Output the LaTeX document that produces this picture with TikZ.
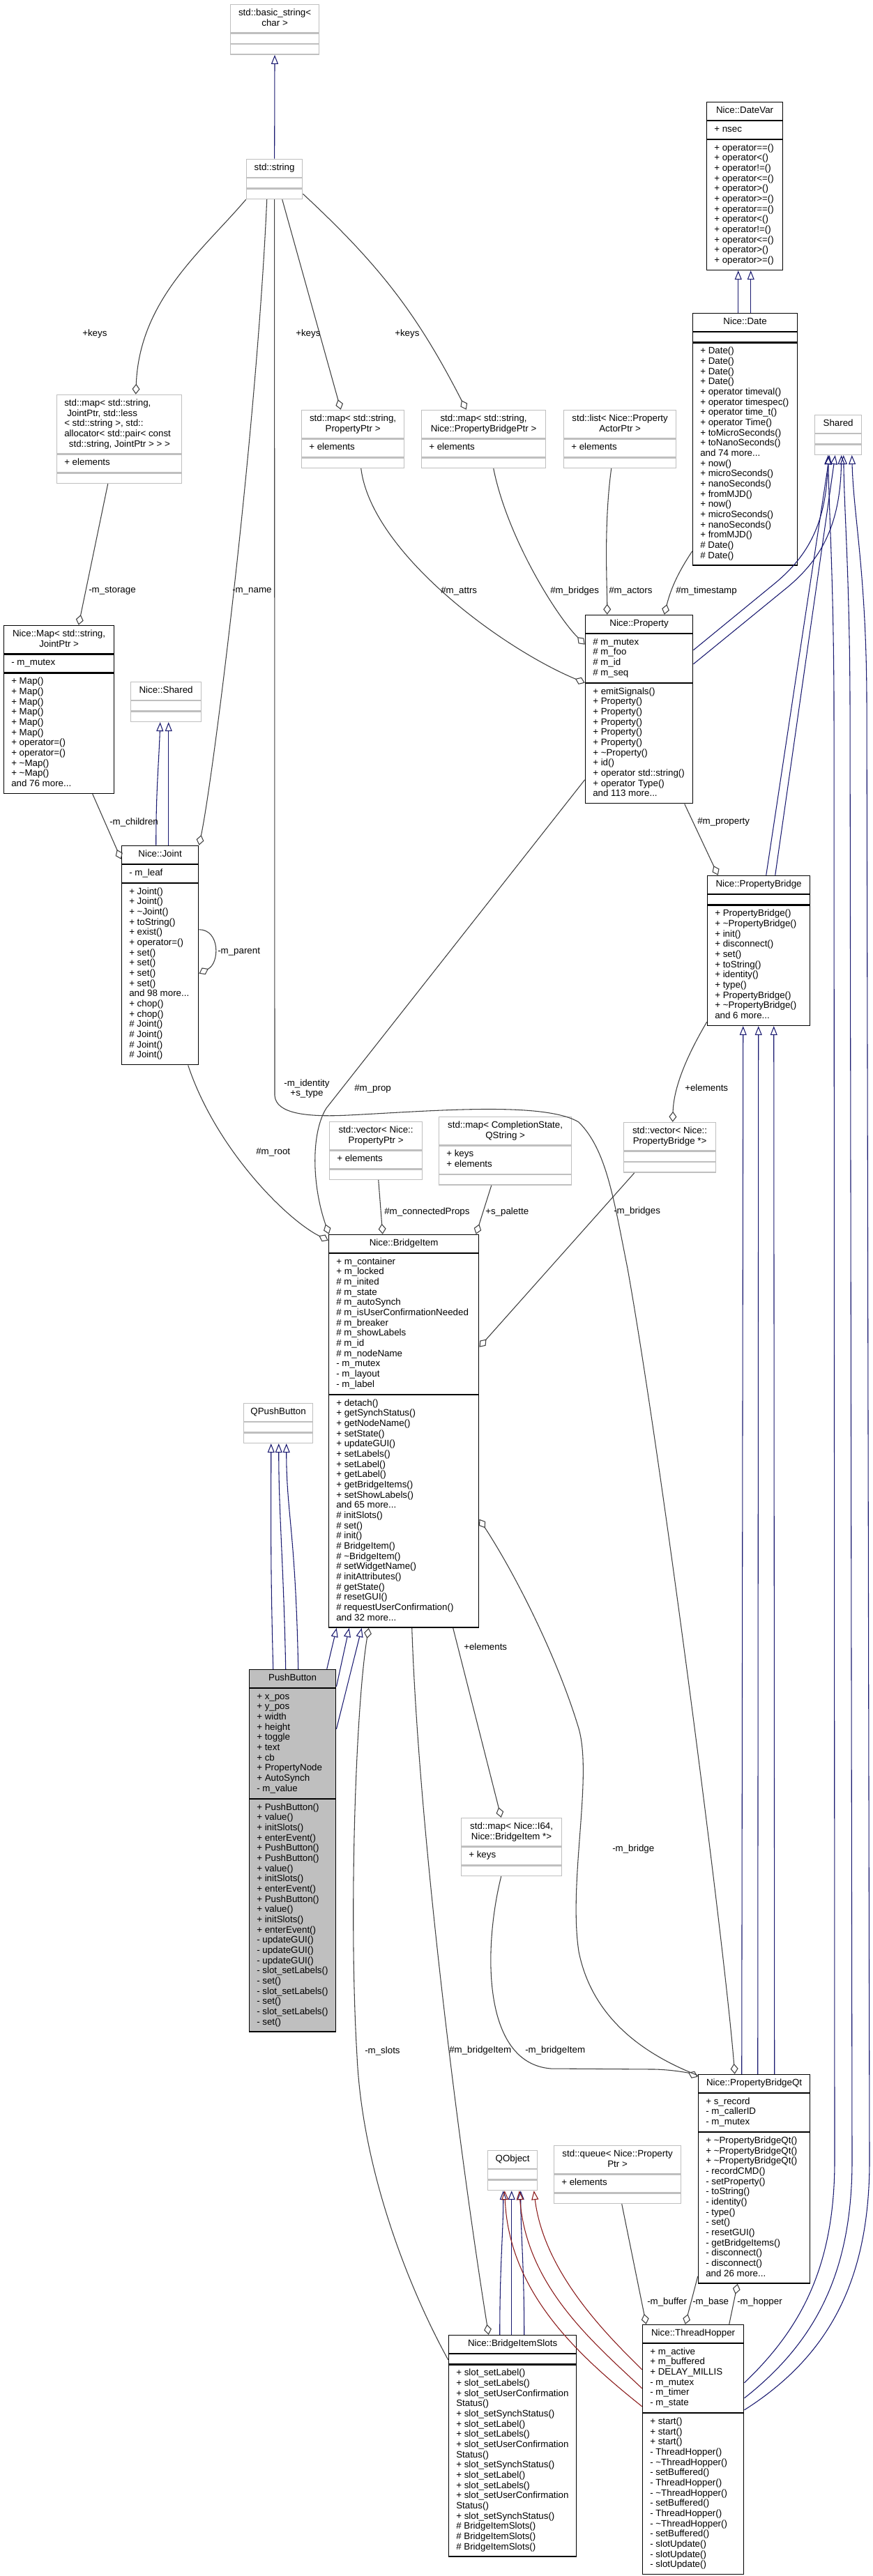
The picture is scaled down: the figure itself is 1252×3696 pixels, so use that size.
\documentclass[tikz,border=0pt]{standalone}
\usepackage{fontspec}
\setmainfont{Liberation Sans}
\usetikzlibrary{arrows.meta,positioning,fit}
\definecolor{edgegray}{HTML}{404040}
\definecolor{inhblue}{HTML}{191970}
\definecolor{privred}{HTML}{8B1A1A}
\definecolor{extgray}{HTML}{BFBFBF}
\newlength{\clsw}
% [title align]{style}{name}{top left}{width px}{title}{attributes}{methods}
\newcommand{\umlclass}[8][c]{%
  \setlength{\clsw}{\dimexpr #5pt*3/4-16pt\relax}%
  \node[cbox,#2,anchor=north west] (#3-t) at (#4)
    {\makebox[\clsw][#1]{\begin{tabular}{@{}#1@{}}#6\end{tabular}}};
  \node[cbox,#2,below=0pt of #3-t] (#3-a)
    {\makebox[\clsw][l]{\begin{tabular}{@{}l@{}}#7\end{tabular}}};
  \node[cbox,#2,below=0pt of #3-a] (#3-m)
    {\makebox[\clsw][l]{\begin{tabular}{@{}l@{}}#8\end{tabular}}};
  \node[fit=(#3-t)(#3-m),inner sep=0pt] (#3) {};
}

\begin{document}
\begin{tikzpicture}[
    x=0.75pt,y=-0.75pt,
    cbox/.style={rectangle,inner xsep=8pt,inner ysep=4.125pt,line width=0.9pt,font=\fontsize{10}{11}\selectfont},
    doc/.style={draw=black},
    ext/.style={draw=extgray},
    cur/.style={draw=black,fill=extgray},
    inh/.style={draw=inhblue,line width=0.8pt,-{Triangle[open,length=9.75pt,width=7.5pt]}},
    priv/.style={inh,draw=privred},
    agg/.style={draw=edgegray,line width=0.8pt,-{Diamond[open,length=11.25pt,width=8.25pt]}},
    lbl/.style={font=\fontsize{10}{11}\selectfont,inner sep=0pt,anchor=west}
  ]
    \path[use as bounding box,fill=white] (0,0) rectangle (1252,3696);

    \umlclass{ext}{basic}{330,6}{127}{std::basic\_string<\\char >}{}{}
    \umlclass{ext}{str}{353,228}{80}{std::string}{}{}
    \umlclass[l]{ext}{storage}{81,566}{179}{std::map< std::string,\\\hspace*{3pt}JointPtr, std::less\\< std::string >, std::\\allocator< std::pair< const\\\hspace*{5pt}std::string, JointPtr > > >}{+ elements}{}
    \umlclass{doc}{mapjp}{5,897}{158}{Nice::Map< std::string,\\JointPtr >}{- m\_mutex}{+ Map()\\+ Map()\\+ Map()\\+ Map()\\+ Map()\\+ Map()\\+ operator=()\\+ operator=()\\+ \textasciitilde Map()\\+ \textasciitilde Map()\\and 76 more...}
    \umlclass{ext}{nshared}{187,978}{101}{Nice::Shared}{}{}
    \umlclass{doc}{joint}{174,1213}{110}{Nice::Joint}{- m\_leaf}{+ Joint()\\+ Joint()\\+ \textasciitilde Joint()\\+ toString()\\+ exist()\\+ operator=()\\+ set()\\+ set()\\+ set()\\+ set()\\and 98 more...\\+ chop()\\+ chop()\\\# Joint()\\\# Joint()\\\# Joint()\\\# Joint()}
    \umlclass{ext}{mappp}{432,588}{147}{std::map< std::string,\\PropertyPtr >}{+ elements}{}
    \umlclass{ext}{mappb}{604,588}{178}{std::map< std::string,\\Nice::PropertyBridgePtr >}{+ elements}{}
    \umlclass{ext}{listpa}{808,588}{161}{std::list< Nice::Property\\ActorPtr >}{+ elements}{}
    \umlclass{doc}{datevar}{1013,146}{109}{Nice::DateVar}{+ nsec}{+ operator==()\\+ operator<()\\+ operator!=()\\+ operator<=()\\+ operator>()\\+ operator>=()\\+ operator==()\\+ operator<()\\+ operator!=()\\+ operator<=()\\+ operator>()\\+ operator>=()}
    \umlclass{doc}{date}{993,449}{150}{Nice::Date}{}{+ Date()\\+ Date()\\+ Date()\\+ Date()\\+ operator timeval()\\+ operator timespec()\\+ operator time\_t()\\+ operator Time()\\+ toMicroSeconds()\\+ toNanoSeconds()\\and 74 more...\\+ now()\\+ microSeconds()\\+ nanoSeconds()\\+ fromMJD()\\+ now()\\+ microSeconds()\\+ nanoSeconds()\\+ fromMJD()\\\# Date()\\\# Date()}
    \umlclass{ext}{shared}{1168,595}{67}{Shared}{}{}
    \umlclass{doc}{property}{839,882}{154}{Nice::Property}{\# m\_mutex\\\# m\_foo\\\# m\_id\\\# m\_seq}{+ emitSignals()\\+ Property()\\+ Property()\\+ Property()\\+ Property()\\+ Property()\\+ \textasciitilde Property()\\+ id()\\+ operator std::string()\\+ operator Type()\\and 113 more...}
    \umlclass{doc}{pbridge}{1014,1256}{147}{Nice::PropertyBridge}{}{+ PropertyBridge()\\+ \textasciitilde PropertyBridge()\\+ init()\\+ disconnect()\\+ set()\\+ toString()\\+ identity()\\+ type()\\+ PropertyBridge()\\+ \textasciitilde PropertyBridge()\\and 6 more...}
    \umlclass{ext}{vecprop}{472,1609}{133}{std::vector< Nice::\\PropertyPtr >}{+ elements}{}
    \umlclass{ext}{mapcs}{629,1602}{190}{std::map< CompletionState,\\QString >}{+ keys\\+ elements}{}
    \umlclass{ext}{vecpb}{894,1610}{132}{std::vector< Nice::\\PropertyBridge *>}{}{}
    \umlclass{doc}{bridgeitem}{471,1771}{215}{Nice::BridgeItem}{+ m\_container\\+ m\_locked\\\# m\_inited\\\# m\_state\\\# m\_autoSynch\\\# m\_isUserConfirmationNeeded\\\# m\_breaker\\\# m\_showLabels\\\# m\_id\\\# m\_nodeName\\- m\_mutex\\- m\_layout\\- m\_label}{+ detach()\\+ getSynchStatus()\\+ getNodeName()\\+ setState()\\+ updateGUI()\\+ setLabels()\\+ setLabel()\\+ getLabel()\\+ getBridgeItems()\\+ setShowLabels()\\and 65 more...\\\# initSlots()\\\# set()\\\# init()\\\# BridgeItem()\\\# \textasciitilde BridgeItem()\\\# setWidgetName()\\\# initAttributes()\\\# getState()\\\# resetGUI()\\\# requestUserConfirmation()\\and 32 more...}
    \umlclass{ext}{qpush}{349,2013}{99}{QPushButton}{}{}
    \umlclass{cur}{pushbutton}{357,2395}{124}{PushButton}{+ x\_pos\\+ y\_pos\\+ width\\+ height\\+ toggle\\+ text\\+ cb\\+ PropertyNode\\+ AutoSynch\\- m\_value}{+ PushButton()\\+ value()\\+ initSlots()\\+ enterEvent()\\+ PushButton()\\+ PushButton()\\+ value()\\+ initSlots()\\+ enterEvent()\\+ PushButton()\\+ value()\\+ initSlots()\\+ enterEvent()\\- updateGUI()\\- updateGUI()\\- updateGUI()\\- slot\_setLabels()\\- set()\\- slot\_setLabels()\\- set()\\- slot\_setLabels()\\- set()}
    \umlclass{ext}{mapbi}{661,2608}{144}{std::map< Nice::I64,\\Nice::BridgeItem *>}{+ keys}{}
    \umlclass{doc}{pbqt}{1001,2976}{160}{Nice::PropertyBridgeQt}{+ s\_record\\- m\_callerID\\- m\_mutex}{+ \textasciitilde PropertyBridgeQt()\\+ \textasciitilde PropertyBridgeQt()\\+ \textasciitilde PropertyBridgeQt()\\- recordCMD()\\- setProperty()\\- toString()\\- identity()\\- type()\\- set()\\- resetGUI()\\- getBridgeItems()\\- disconnect()\\- disconnect()\\and 26 more...}
    \umlclass{ext}{qobject}{699,3085}{71}{QObject}{}{}
    \umlclass{ext}{queue}{794,3078}{182}{std::queue< Nice::Property\\Ptr >}{+ elements}{}
    \umlclass{doc}{hopper}{921,3335}{145}{Nice::ThreadHopper}{+ m\_active\\+ m\_buffered\\+ DELAY\_MILLIS\\- m\_mutex\\- m\_timer\\- m\_state}{+ start()\\+ start()\\+ start()\\- ThreadHopper()\\- \textasciitilde ThreadHopper()\\- setBuffered()\\- ThreadHopper()\\- \textasciitilde ThreadHopper()\\- setBuffered()\\- ThreadHopper()\\- \textasciitilde ThreadHopper()\\- setBuffered()\\- slotUpdate()\\- slotUpdate()\\- slotUpdate()}
    \umlclass{doc}{slots}{643,3350}{183}{Nice::BridgeItemSlots}{}{+ slot\_setLabel()\\+ slot\_setLabels()\\+ slot\_setUserConfirmation\\Status()\\+ slot\_setSynchStatus()\\+ slot\_setLabel()\\+ slot\_setLabels()\\+ slot\_setUserConfirmation\\Status()\\+ slot\_setSynchStatus()\\+ slot\_setLabel()\\+ slot\_setLabels()\\+ slot\_setUserConfirmation\\Status()\\+ slot\_setSynchStatus()\\\# BridgeItemSlots()\\\# BridgeItemSlots()\\\# BridgeItemSlots()}

    \draw[inh] (str) -- (basic);
    \draw[inh] ([shift={(50,0)}]joint.north west) .. controls +(0,-80) and +(-2,60) .. ([shift={(43,0)}]nshared.south west);
    \draw[inh] ([shift={(68,0)}]joint.north west) -- ([shift={(55,0)}]nshared.south west);
    \draw[inh] ([shift={(66,0)}]date.north west) -- ([shift={(46,0)}]datevar.south west);
    \draw[inh] ([shift={(84,0)}]date.north west) -- ([shift={(64,0)}]datevar.south west);
    \draw[inh] ([shift={(0,51)}]property.north east) -- (1110,838) .. controls (1160,797) and (1185,750) .. ([shift={(20,0)}]shared.south west);
    \draw[inh] ([shift={(0,71)}]property.north east) -- (1130,842) .. controls (1180,800) and (1205,750) .. ([shift={(39,0)}]shared.south west);
    \draw[inh] ([shift={(85,0)}]pbridge.north west) -- ([shift={(22,0)}]shared.south west);
    \draw[inh] ([shift={(98,0)}]pbridge.north west) -- ([shift={(30,0)}]shared.south west);
    \draw[inh] ([shift={(0,84)}]hopper.north east) .. controls (1150,3340) and (1197,3250) .. (1197,3100) -- (1196,1000) .. controls (1195,820) and (1189,740) .. ([shift={(20,0)}]shared.south west);
    \draw[inh] ([shift={(0,106)}]hopper.north east) .. controls (1170,3360) and (1222,3260) .. (1222,3100) -- (1219,1000) .. controls (1218,820) and (1211,740) .. ([shift={(42,0)}]shared.south west);
    \draw[inh] ([shift={(0,123)}]hopper.north east) .. controls (1190,3380) and (1247,3270) .. (1247,3100) -- (1243,1000) .. controls (1242,820) and (1224,740) .. ([shift={(54,0)}]shared.south west);
    \draw[inh] ([shift={(63,0)}]pbqt.north west) -- ([shift={(52,0)}]pbridge.south west);
    \draw[inh] ([shift={(86,0)}]pbqt.north west) -- ([shift={(74,0)}]pbridge.south west);
    \draw[inh] ([shift={(110,0)}]pbqt.north west) -- ([shift={(96,0)}]pbridge.south west);
    \draw[inh] ([shift={(35,0)}]pushbutton.north west) .. controls +(-4,-150) and +(0,120) .. ([shift={(40,0)}]qpush.south west);
    \draw[inh] ([shift={(53,0)}]pushbutton.north west) .. controls +(-3,-150) and +(0,100) .. ([shift={(51,0)}]qpush.south west);
    \draw[inh] ([shift={(71,0)}]pushbutton.north west) .. controls +(-4,-200) and +(0,100) .. ([shift={(62,0)}]qpush.south west);
    \draw[inh] ([shift={(112,0)}]pushbutton.north west) -- ([shift={(12,0)}]bridgeitem.south west);
    \draw[inh] ([shift={(0,25)}]pushbutton.north east) -- ([shift={(30,0)}]bridgeitem.south west);
    \draw[inh] ([shift={(0,86)}]pushbutton.north east) -- ([shift={(48,0)}]bridgeitem.south west);
    \draw[inh] ([shift={(74,0)}]slots.north west) .. controls +(0,-100) and +(0,60) .. ([shift={(23,0)}]qobject.south west);
    \draw[inh] ([shift={(91,0)}]slots.north west) -- ([shift={(35,0)}]qobject.south west);
    \draw[inh] ([shift={(109,0)}]slots.north west) .. controls +(0,-100) and +(0,60) .. ([shift={(48,0)}]qobject.south west);
    \draw[priv] ([shift={(0,65)}]hopper.north west) .. controls (870,3350) and (780,3260) .. ([shift={(67,0)}]qobject.south west);
    \draw[priv] ([shift={(0,92)}]hopper.north west) .. controls (850,3360) and (755,3280) .. ([shift={(46,0)}]qobject.south west);
    \draw[priv] ([shift={(0,118)}]hopper.north west) .. controls (830,3380) and (730,3290) .. ([shift={(25,0)}]qobject.south west);

    \draw[agg] (str.south west) .. controls (290,360) and (200,430) .. ([shift={(114,0)}]storage.north west);
    \draw[agg] ([shift={(52,0)}]str.south west) -- ([shift={(57,0)}]mappp.north west);
    \draw[agg] ([shift={(0,-8)}]str.south east) to[bend left=10] ([shift={(65,0)}]mappb.north west);
    \draw[agg] ([shift={(30,0)}]str.south west) .. controls (368,620) and (306,1115) .. (joint.north east);
    \draw[agg] (str.south) -- (394,1572) .. controls (396,1598) and (440,1603) .. (500,1600) .. controls (620,1594) and (780,1580) .. (830,1610) .. controls (870,1650) and (880,1720) .. (900,1820) .. controls (950,2100) and (1040,2800) .. ([shift={(53,0)}]pbqt.north west);
    \draw[agg] ([shift={(74,0)}]storage.south west) -- ([shift={(108,0)}]mapjp.north west);
    \draw[agg] ([shift={(128,0)}]mapjp.south west) -- ([shift={(0,20)}]joint.north west);
    \draw[agg] ([shift={(0,121)}]joint.north east) .. controls +(30,0) and +(30,-15) .. ([shift={(0,184)}]joint.north east);
    \draw[agg] ([shift={(96,0)}]joint.south west) .. controls +(40,120) and +(-60,-30) .. ([shift={(0,9)}]bridgeitem.north west);
    \draw[agg] ([shift={(86,0)}]mappp.south west) .. controls +(15,120) and +(-120,-50) .. ([shift={(0,98)}]property.north west);
    \draw[agg] ([shift={(104,0)}]mappb.south west) .. controls +(20,100) and +(-40,-40) .. ([shift={(0,43)}]property.north west);
    \draw[agg] ([shift={(69,0)}]listpa.south west) .. controls +(-11,80) and +(0,-40) .. ([shift={(32,0)}]property.north west);
    \draw[agg] ([shift={(0,-21)}]date.south west) .. controls +(-18,27) and +(10,-40) .. ([shift={(114,0)}]property.north west);
    \draw[agg] ([shift={(143,0)}]property.south west) -- ([shift={(16,0)}]pbridge.north west);
    \draw[agg] ([shift={(0,237)}]property.north west) -- (468,1590) .. controls (446,1625) and (447,1700) .. ([shift={(1,0)}]bridgeitem.north west);
    \draw[agg] ([shift={(71,0)}]vecprop.south west) -- ([shift={(78,0)}]bridgeitem.north west);
    \draw[agg] ([shift={(76,0)}]mapcs.south west) -- ([shift={(212,0)}]bridgeitem.north west);
    \draw[agg] ([shift={(16,0)}]vecpb.south west) -- ([shift={(0,162)}]bridgeitem.north east);
    \draw[agg] ([shift={(0,-6)}]pbridge.south west) .. controls (985,1515) and (966,1560) .. ([shift={(71,0)}]vecpb.north west);
    \draw[agg] ([shift={(0,2)}]pbqt.north west) .. controls (930,2950) and (850,2900) .. (830,2800) .. controls (815,2700) and (850,2550) .. (830,2480) .. controls (800,2380) and (740,2260) .. ([shift={(0,409)}]bridgeitem.north east);
    \draw[agg] ([shift={(179,0)}]bridgeitem.south west) -- ([shift={(58,0)}]mapbi.north west);
    \draw[agg] ([shift={(58,0)}]mapbi.south west) .. controls +(-25,100) and (690,2960) .. (790,2968) -- (940,2969) .. controls (970,2970) and (990,2975) .. ([shift={(0,4)}]pbqt.north west);
    \draw[agg] ([shift={(120,0)}]bridgeitem.south west) .. controls +(10,300) and +(-40,-250) .. ([shift={(58,0)}]slots.north west);
    \draw[agg] ([shift={(0,36)}]slots.north west) .. controls (590,3290) and (520,3120) .. (512,2950) .. controls (500,2750) and (510,2450) .. ([shift={(58,0)}]bridgeitem.south west);
    \draw[agg] ([shift={(98,0)}]queue.south west) -- ([shift={(6,0)}]hopper.north west);
    \draw[agg] ([shift={(0,-11)}]pbqt.south west) -- ([shift={(62,0)}]hopper.north west);
    \draw[agg] ([shift={(125,0)}]hopper.north west) -- ([shift={(57,0)}]pbqt.south west);

    \node[lbl] (l-keys1) at (118,479) {+keys};
    \node[lbl] (l-keys2) at (424,479) {+keys};
    \node[lbl] (l-keys3) at (566,479) {+keys};
    \node[lbl] (l-storage) at (127,848) {-m\_storage};
    \node[lbl] (l-name) at (333,848) {-m\_name};
    \node[lbl] (l-attrs) at (632,848) {\#m\_attrs};
    \node[lbl] (l-bridges) at (789,848) {\#m\_bridges};
    \node[lbl] (l-actors) at (873,848) {\#m\_actors};
    \node[lbl] (l-stamp) at (969,848) {\#m\_timestamp};
    \node[lbl] (l-children) at (157,1180) {-m\_children};
    \node[lbl] (l-parent) at (312,1366) {-m\_parent};
    \node[lbl] (l-property) at (1000,1179) {\#m\_property};
    \node[lbl,anchor=center,align=center] (l-ident) at (440,1562) {-m\_identity\\+s\_type};
    \node[lbl] (l-prop) at (508,1562) {\#m\_prop};
    \node[lbl] (l-elems1) at (982,1561) {+elements};
    \node[lbl] (l-root) at (367,1653) {\#m\_root};
    \node[lbl] (l-conn) at (551,1739) {\#m\_connectedProps};
    \node[lbl] (l-palette) at (696,1739) {+s\_palette};
    \node[lbl] (l-ibridges) at (880,1738) {-m\_bridges};
    \node[lbl] (l-elems2) at (665,2363) {+elements};
    \node[lbl] (l-bridge) at (878,2653) {-m\_bridge};
    \node[lbl] (l-slots) at (523,2943) {-m\_slots};
    \node[lbl] (l-item1) at (644,2942) {\#m\_bridgeItem};
    \node[lbl] (l-item2) at (753,2942) {-m\_bridgeItem};
    \node[lbl] (l-buffer) at (928,3303) {-m\_buffer};
    \node[lbl] (l-base) at (993,3303) {-m\_base};
    \node[lbl] (l-hopper) at (1057,3303) {-m\_hopper};
\end{tikzpicture}
\end{document}
